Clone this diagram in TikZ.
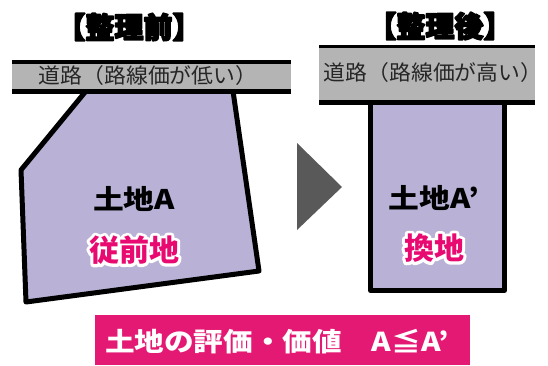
\documentclass[tikz,border=0pt]{standalone}
\usepackage{fontspec}
\newfontfamily\cjk{Noto Sans CJK JP}
\newfontfamily\cjkwide{Noto Sans CJK JP}[FakeStretch=1.14]
\newfontfamily\cjkroad{Noto Sans CJK JP}[FakeStretch=1.04]
\usetikzlibrary{calc}
\definecolor{lav}{RGB}{185,178,214}
\definecolor{roadgray}{RGB}{180,180,180}
\definecolor{mag}{RGB}{228,25,115}
\definecolor{hotpink}{RGB}{232,10,112}
\definecolor{arrowgray}{RGB}{89,89,89}
\newcommand\strokedtext[2]{\special{pdf:literal direct 2 Tr #1 w 1 j 1 J}#2\special{pdf:literal direct 0 Tr 1 w}}
\newcommand\halonode[4]{%
  \node[#3, text=white] (#1halo) at (#2) {\strokedtext{6}{#4}};
  \node[#3, text=hotpink] (#1) at (#2) {#4};
}
\tikzset{
  parcel/.style={draw=black, fill=lav, line width=5pt, line join=round},
  roadbox/.style={fill=roadgray, inner sep=0pt},
  roadtext/.style={inner sep=0pt, font=\cjkroad\fontsize{21}{24}\selectfont, text=black!85},
  title/.style={inner sep=0pt, font=\cjk\bfseries\fontsize{29}{32}\selectfont},
  landlabel/.style={inner sep=0pt, font=\cjkwide\bfseries\fontsize{27}{32}\selectfont},
  kindlabel/.style={inner sep=0pt, font=\cjk\bfseries\fontsize{30}{34}\selectfont},
  bottomtext/.style={inner sep=0pt, text=white, font=\cjkwide\bfseries\fontsize{26}{28}\selectfont}
}
\begin{document}
\begin{tikzpicture}[x=1pt,y=-1pt]
\useasboundingbox (0,0) rectangle (548,365);
% titles
\node[title] (titleL) at (129,27) {\strokedtext{1.6}{【整理前】}};
\node[title] (titleR) at (440,26) {\strokedtext{1.6}{【整理後】}};
% left parcel (irregular)
\draw[parcel] (86,91) -- (21,170) -- (26,302) -- (259,271) -- (233,91) -- cycle;
% right parcel
\node[parcel, minimum width=134pt, minimum height=188pt, inner sep=0pt] (parcelR) at (437.5,196.5) {};
% left road
\node[roadbox, minimum width=279pt, minimum height=34pt] (roadL) at (151.5,77) {};
\fill[black] (roadL.north west) rectangle ($(roadL.north east)+(0,4)$);
\fill[black] ($(roadL.south west)+(0,-5)$) rectangle (roadL.south east);
\node[roadtext] (roadLtext) at (148,76) {道路（路線価が低い）};
% right road
\node[roadbox, minimum width=216pt, minimum height=60pt] (roadR) at (427,75) {};
\fill[black] (roadR.north west) rectangle ($(roadR.north east)+(0,3.5)$);
\fill[black] ($(roadR.south west)+(0,-5)$) rectangle (roadR.south east);
\node[roadtext] (roadRtext) at (433,73) {道路（路線価が高い）};
% arrow
\fill[arrowgray] (297,143) -- (297,230) -- (342,187) -- cycle;
% labels
\node[landlabel] (landA) at (134,199) {土地A};
\node[landlabel] (landA2) at (434,198) {土地A’};
\halonode{kindL}{134,250}{kindlabel}{従前地}
\halonode{kindR}{434,248}{kindlabel}{換地}
% bottom banner
\node[fill=mag, minimum width=375pt, minimum height=50pt, inner sep=0pt] (banner) at (282.5,340) {};
\node[bottomtext] (bannertext) at (277,342) {土地の評価・価値　A≦A’};
\end{tikzpicture}
\end{document}
